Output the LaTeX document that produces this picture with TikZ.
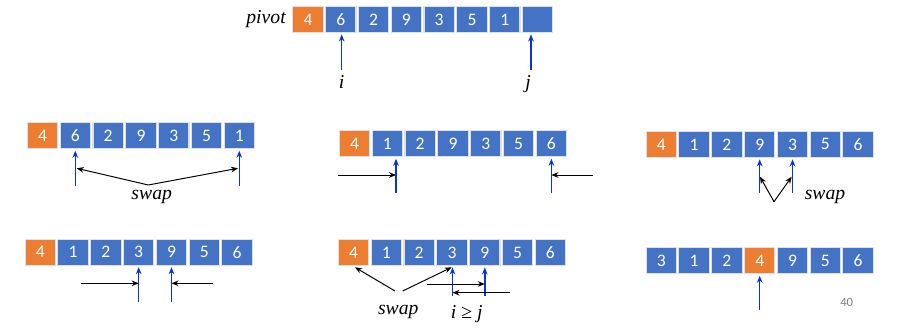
\documentclass[tikz,border=0pt]{standalone}
\usepackage{fontspec}
\setmainfont{Liberation Serif}
\newfontfamily\cellfont{Carlito}
\usetikzlibrary{arrows.meta, positioning}
\definecolor{cellblue}{RGB}{68,114,196}
\definecolor{pivotorange}{RGB}{237,125,49}
\definecolor{ptrblue}{RGB}{10,50,215}
\definecolor{cellgap}{RGB}{222,226,232}
\tikzset{
  cell/.style={rectangle, draw=cellgap, line width=0.8pt, fill=#1, text=white,
               minimum width=0.76cm, minimum height=0.65cm, inner sep=0pt,
               font=\cellfont\fontsize{12.5}{14}\selectfont},
  cell/.default=cellblue,
  ptr/.style={-{Stealth[length=5pt, width=4pt]}, draw=ptrblue, line width=1pt, shorten >=1pt},
  mv/.style={-{Stealth[length=5pt, width=4pt]}, line width=0.7pt},
  lbl/.style={font=\itshape\fontsize{14}{16}\selectfont, inner sep=1pt}
}
% one row of cells: name, x of first centre, y, index of the orange cell, values
\newcommand{\cellrow}[5]{%
  \foreach \v [count=\k from 0] in {#5} {%
    \ifnum\k=#4 \def\cc{pivotorange}\else\def\cc{cellblue}\fi
    \node[cell=\cc] (#1\k) at ({#2+32.8*\k},#3) {\v};
  }%
}

\begin{document}
\begin{tikzpicture}[x=0.025cm, y=-0.025cm]
  \useasboundingbox (0,0) rectangle (897,328);

  % start
  \cellrow{t}{308}{19.5}{0}{4,6,2,9,3,5,1,{}}
  \node[lbl, left=0.12cm of t0] (pv) {pivot};
  \coordinate (ti) at (341.7,70);
  \coordinate (tj) at (531,70);
  \draw[ptr] (ti) -- (ti |- t1.south);
  \draw[ptr] (tj) -- (tj |- t7.south);
  \node[lbl, below=0.1cm of ti] (li) {i};
  \node[lbl, below=0.1cm of tj, xshift=-2pt] (lj) {j};

  % first swap
  \cellrow{a}{42.6}{135.8}{0}{4,6,2,9,3,5,1}
  \coordinate (pa1) at (75.3,186);
  \coordinate (pa6) at (239.3,186);
  \draw[ptr] (pa1) -- (pa1 |- a1.south);
  \draw[ptr] (pa6) -- (pa6 |- a6.south);
  \coordinate (sa) at (148.3,185);
  \coordinate (sa1) at (76.7,168.3);
  \coordinate (sa6) at (238,168.3);
  \draw[mv] (sa) -- (sa1);
  \draw[mv] (sa) -- (sa6);
  \node[lbl] (swa) at (151.7,197.3) {swap};

  % moving on
  \cellrow{b}{354.6}{143.8}{0}{4,1,2,9,3,5,6}
  \coordinate (pb1) at (396,193.3);
  \coordinate (pb6) at (551.4,193.3);
  \draw[ptr] (pb1) -- (pb1 |- b1.south);
  \draw[ptr] (pb6) -- (pb6 |- b6.south);
  \coordinate (mb1) at (338.3,175);
  \coordinate (mb6) at (593,175);
  \draw[mv] (mb1) -- (pb1 |- mb1);
  \draw[mv] (mb6) -- (pb6 |- mb6);

  % second swap
  \cellrow{c}{661.3}{144.4}{0}{4,1,2,9,3,5,6}
  \coordinate (pc3) at (759.7,192.7);
  \coordinate (pc4) at (792.5,192.7);
  \draw[ptr] (pc3) -- (pc3 |- c3.south);
  \draw[ptr] (pc4) -- (pc4 |- c4.south);
  \coordinate (sc) at (774,201.7);
  \coordinate (sc3) at (760,176.7);
  \coordinate (sc4) at (791.7,176.7);
  \draw[mv] (sc) -- (sc3);
  \draw[mv] (sc) -- (sc4);
  \node[lbl] (swc) at (825,196.7) {swap};

  % moving on
  \cellrow{d}{40.3}{252.2}{0}{4,1,2,3,9,5,6}
  \coordinate (pd3) at (138.7,302);
  \coordinate (pd4) at (171.5,302);
  \draw[ptr] (pd3) -- (pd3 |- d3.south);
  \draw[ptr] (pd4) -- (pd4 |- d4.south);
  \coordinate (md3) at (81,283.3);
  \coordinate (md4) at (212.7,283.3);
  \draw[mv] (md3) -- (pd3 |- md3);
  \draw[mv] (md4) -- (pd4 |- md4);

  % crossed, pivot swap
  \cellrow{e}{353.6}{252.5}{0}{4,1,2,3,9,5,6}
  \coordinate (pe3) at (452.5,296);
  \coordinate (pe4) at (484.8,296);
  \draw[ptr] (pe3) -- (pe3 |- e3.south);
  \draw[ptr] (pe4) -- (pe4 |- e4.south);
  \coordinate (se0) at (395,291);
  \coordinate (se3) at (402.7,291);
  \coordinate (te0) at (355,267.3);
  \coordinate (te3) at (451.7,267.3);
  \draw[mv] (se0) -- (te0);
  \draw[mv] (se3) -- (te3);
  \node[lbl] (swe) at (398.3,311.7) {swap};
  \coordinate (me4) at (427.3,284);
  \coordinate (me3) at (510,292.7);
  \draw[mv] (me4) -- (pe4 |- me4);
  \draw[mv] (me3) -- (pe3 |- me3);
  \node[lbl] (cross) at (466.7,314.5) {i \textup{≥} j};

  % result
  \cellrow{f}{661.3}{260.8}{3}{3,1,2,4,9,5,6}
  \coordinate (pf3) at (759.7,310);
  \draw[ptr] (pf3) -- (pf3 |- f3.south);
  \node[font=\cellfont\fontsize{9}{11}\selectfont, text=gray] (pg) at (846.7,302.7) {40};
\end{tikzpicture}
\end{document}
